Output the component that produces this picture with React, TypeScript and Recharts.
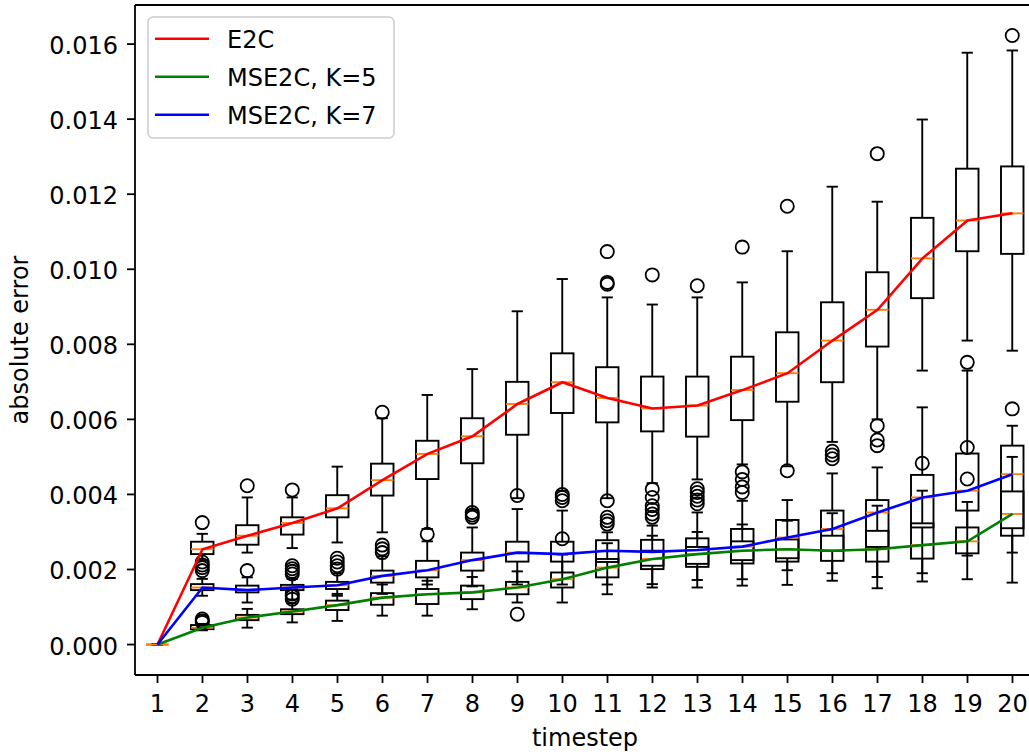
import React from 'react';
import { ComposedChart, Bar, Line, XAxis, YAxis, Legend, ReferenceLine } from 'recharts';

const FONT = '"DejaVu Sans", sans-serif';

const timesteps = ['1', '2', '3', '4', '5', '6', '7', '8', '9', '10', '11', '12', '13', '14', '15', '16', '17', '18', '19', '20'];
const yTicks = [0, 0.002, 0.004, 0.006, 0.008, 0.01, 0.012, 0.014, 0.016];

// E2C
const e2cLow = [0, 0.00225, 0.00245, 0.00257, 0.00272, 0.00299, 0.00308, 0.00358, 0.0039, 0.0041, 0.0039, 0.0043, 0.0044, 0.0048, 0.00475, 0.0054, 0.006, 0.0073, 0.0081, 0.00783];
const e2cQ1 = [0, 0.00241, 0.00266, 0.00293, 0.00339, 0.00397, 0.00441, 0.00483, 0.00559, 0.00617, 0.00592, 0.00568, 0.00554, 0.00598, 0.00647, 0.00699, 0.00794, 0.00923, 0.01048, 0.01041];
const e2cMed = [0, 0.00254, 0.0029, 0.00324, 0.00363, 0.00438, 0.00508, 0.00555, 0.00641, 0.00699, 0.00657, 0.00629, 0.00637, 0.00678, 0.00723, 0.0081, 0.00892, 0.01029, 0.0113, 0.01149];
const e2cQ3 = [0, 0.00274, 0.00318, 0.00339, 0.00398, 0.00482, 0.00543, 0.00603, 0.007, 0.00776, 0.00739, 0.00714, 0.00714, 0.00767, 0.00832, 0.00912, 0.00992, 0.01137, 0.01268, 0.01274];
const e2cHigh = [0, 0.00295, 0.00392, 0.00392, 0.00474, 0.00603, 0.00665, 0.00734, 0.00888, 0.00974, 0.00925, 0.00906, 0.00925, 0.00965, 0.01048, 0.0122, 0.0118, 0.01399, 0.01577, 0.01583];
const e2cOutliers = [[], [0.00325], [0.00423], [0.00412], [], [0.00619], [0.00294], [], [], [], [0.0096, 0.00965, 0.01047], [0.00985], [0.00956], [0.01059], [0.01168], [], [0.01308], [], [], [0.01623]];

// MSE2C, K=5
const k5Low = [0, 0.00038, 0.00045, 0.00059, 0.00063, 0.00077, 0.00077, 0.00094, 0.00112, 0.00112, 0.00134, 0.00152, 0.00152, 0.00157, 0.00159, 0.0017, 0.0015, 0.00168, 0.00174, 0.00165];
const k5Q1 = [0, 0.00041, 0.00065, 0.00081, 0.00092, 0.00106, 0.00108, 0.00121, 0.00134, 0.00152, 0.00179, 0.00201, 0.00207, 0.00216, 0.00221, 0.00223, 0.00221, 0.00229, 0.00243, 0.0029];
const k5Med = [0, 0.00045, 0.00072, 0.00088, 0.00105, 0.00125, 0.00134, 0.00139, 0.00152, 0.00174, 0.00205, 0.00228, 0.00241, 0.0025, 0.00254, 0.0025, 0.00254, 0.00265, 0.00275, 0.00348];
const k5Q3 = [0, 0.00052, 0.00079, 0.00094, 0.00117, 0.00137, 0.00148, 0.00157, 0.00167, 0.00192, 0.00228, 0.0025, 0.0026, 0.00275, 0.0028, 0.0029, 0.00303, 0.00323, 0.00312, 0.00408];
const k5High = [0, 0.00055, 0.00095, 0.0011, 0.00135, 0.0016, 0.0017, 0.0018, 0.00195, 0.0024, 0.0027, 0.0029, 0.003, 0.0032, 0.0033, 0.0035, 0.0037, 0.0041, 0.0038, 0.005];
const k5Outliers = [[], [0.00059, 0.00063, 0.00068], [], [0.00121, 0.00128, 0.00135], [], [], [], [], [0.00081], [0.00282], [], [], [], [], [], [], [], [0.00483], [0.00441, 0.00525], []];

// MSE2C, K=7
const k7Low = [0, 0.0013, 0.00112, 0.0012, 0.0013, 0.00135, 0.0016, 0.00155, 0.0016, 0.0016, 0.0016, 0.00161, 0.00172, 0.00174, 0.00198, 0.0019, 0.0018, 0.0019, 0.00237, 0.00245];
const k7Q1 = [0, 0.00145, 0.00139, 0.00145, 0.00148, 0.00165, 0.00179, 0.00197, 0.00221, 0.00221, 0.0022, 0.0021, 0.00215, 0.00225, 0.0023, 0.0025, 0.0026, 0.00312, 0.00357, 0.0031];
const k7Med = [0, 0.00152, 0.00145, 0.00152, 0.00158, 0.00183, 0.00198, 0.00225, 0.00245, 0.00241, 0.0025, 0.00247, 0.00252, 0.00261, 0.00285, 0.00308, 0.00352, 0.00392, 0.0041, 0.00454];
const k7Q3 = [0, 0.00161, 0.00157, 0.00159, 0.00167, 0.00197, 0.00223, 0.00245, 0.00274, 0.00274, 0.00278, 0.00279, 0.00283, 0.00308, 0.00332, 0.00357, 0.00385, 0.00452, 0.00509, 0.0053];
const k7High = [0, 0.00175, 0.00179, 0.00175, 0.0019, 0.00235, 0.00275, 0.00312, 0.00361, 0.00357, 0.00299, 0.00317, 0.00352, 0.00383, 0.00385, 0.00456, 0.00472, 0.00632, 0.0073, 0.00583];
const k7Outliers = [[], [0.00197, 0.00205, 0.00212, 0.0022], [0.00197], [0.00188, 0.00195, 0.00202, 0.0021], [0.00201, 0.0021, 0.0022, 0.0023], [0.00245, 0.00255, 0.00265], [], [0.00339, 0.00345, 0.00352], [0.00397], [0.00383, 0.00392, 0.004], [0.00321, 0.0033, 0.00339, 0.00383], [0.00339, 0.00348, 0.0036, 0.0037, 0.00392, 0.00414], [0.00375, 0.00385, 0.00395, 0.00405, 0.00415], [0.00405, 0.0042, 0.0044, 0.0046], [0.00463], [0.00495, 0.00505, 0.00515], [0.0053, 0.00545, 0.00583], [], [0.00752], [0.00628]];

const series = [
  { key: 'e2c', name: 'E2C', color: '#ff0000', low: e2cLow, q1: e2cQ1, med: e2cMed, q3: e2cQ3, high: e2cHigh, outliers: e2cOutliers },
  { key: 'k5', name: 'MSE2C, K=5', color: '#008000', low: k5Low, q1: k5Q1, med: k5Med, q3: k5Q3, high: k5High, outliers: k5Outliers },
  { key: 'k7', name: 'MSE2C, K=7', color: '#0000ff', low: k7Low, q1: k7Q1, med: k7Med, q3: k7Q3, high: k7High, outliers: k7Outliers },
];

// matplotlib-style autoscale: data range plus 5% on each side
const spanMin = 0;
const spanMax = Math.max(...series.flatMap((s) => [...s.high, ...s.outliers.flat()]));
const pad = (spanMax - spanMin) * 0.05;
const yDomain = [spanMin - pad, spanMax + pad];

const rows = timesteps.map((t, i) => {
  const row: any = {
    t,
    span: [spanMin, spanMax],
    boxes: series.map((s) => ({
      low: s.low[i],
      q1: s.q1[i],
      med: s.med[i],
      q3: s.q3[i],
      high: s.high[i],
      outliers: s.outliers[i],
    })),
  };
  series.forEach((s) => {
    row[s.key] = s.med[i];
  });
  return row;
});

// the invisible bar spans [spanMin, spanMax]; its pixel extent gives the y mapping for the boxes
function BoxShape(props: any) {
  const { x, y, width, height, payload } = props;
  if (payload == null || x == null || y == null) return null;
  const top = Math.min(y, y + height);
  const bottom = Math.max(y, y + height);
  const py = (v: number) => bottom - ((v - spanMin) / (spanMax - spanMin)) * (bottom - top);
  const cx = x + width / 2;
  const half = width / 2;
  const cap = width / 4;
  const sw = 1.9;
  return (
    <g>
      {payload.boxes.map((b: any, k: number) => (
        <g key={k}>
          <line x1={cx} x2={cx} y1={py(b.low)} y2={py(b.q1)} stroke="#000" strokeWidth={sw} />
          <line x1={cx} x2={cx} y1={py(b.q3)} y2={py(b.high)} stroke="#000" strokeWidth={sw} />
          <line x1={cx - cap} x2={cx + cap} y1={py(b.low)} y2={py(b.low)} stroke="#000" strokeWidth={sw} />
          <line x1={cx - cap} x2={cx + cap} y1={py(b.high)} y2={py(b.high)} stroke="#000" strokeWidth={sw} />
          <rect x={cx - half} y={py(b.q3)} width={width} height={py(b.q1) - py(b.q3)} fill="none" stroke="#000" strokeWidth={sw} />
          <line x1={cx - half} x2={cx + half} y1={py(b.med)} y2={py(b.med)} stroke="#ff7f0e" strokeWidth={sw} />
          {b.outliers.map((v: number, j: number) => (
            <circle key={j} cx={cx} cy={py(v)} r={6.6} fill="none" stroke="#000" strokeWidth={1.8} />
          ))}
        </g>
      ))}
    </g>
  );
}

const YTick = (props: any) => {
  const { x, y, payload } = props;
  return (
    <text x={x} y={y + 10} textAnchor="end" fontFamily={FONT} fontSize={24} fill="#000">
      {Number(payload.value).toFixed(3)}
    </text>
  );
};

const XTick = (props: any) => {
  const { x, y, payload } = props;
  return (
    <text x={x} y={y + 25} textAnchor="middle" fontFamily={FONT} fontSize={24} fill="#000">
      {payload.value}
    </text>
  );
};

const YLabel = (props: any) => {
  const vb = props.viewBox || { x: 0, y: 5, width: 135, height: 670 };
  const x = vb.x + 27.5;
  const y = vb.y + vb.height / 2;
  return (
    <text x={x} y={y} transform={`rotate(-90, ${x}, ${y})`} textAnchor="middle" fontFamily={FONT} fontSize={24} fill="#000">
      absolute error
    </text>
  );
};

const XLabel = (props: any) => {
  const vb = props.viewBox || { x: 135, y: 675, width: 900, height: 80 };
  return (
    <text x={vb.x + vb.width / 2} y={vb.y + 71} textAnchor="middle" fontFamily={FONT} fontSize={24} fill="#000">
      timestep
    </text>
  );
};

const renderLegend = (props: any) => {
  const items = (props.payload || []).filter((p: any) => p.type !== 'none');
  return (
    <svg width={248} height={123} style={{ display: 'block' }}>
      <rect x={1} y={1} width={246} height={121} rx={5} fill="#fff" fillOpacity={0.8} stroke="#cccccc" strokeWidth={1.5} />
      {items.map((it: any, i: number) => {
        const ly = 22.7 + 38 * i;
        return (
          <g key={it.value}>
            <line x1={8} x2={62} y1={ly} y2={ly} stroke={it.color} strokeWidth={2.6} />
            <text x={80} y={ly + 9.5} fontFamily={FONT} fontSize={24} fill="#000">
              {it.value}
            </text>
          </g>
        );
      })}
    </svg>
  );
};

export default function App() {
  return (
    <div style={{ width: 1029, height: 755, overflow: 'hidden', background: '#fff' }}>
      <style>{'body { margin: 0; background: #fff; }'}</style>
      <ComposedChart width={1036} height={755} data={rows} margin={{ top: 5, right: 1, bottom: 0, left: 0 }}>
        <XAxis
          dataKey="t"
          interval={0}
          height={80}
          tickSize={8}
          tickMargin={4}
          tick={<XTick />}
          axisLine={{ stroke: '#000', strokeWidth: 1.8 }}
          tickLine={{ stroke: '#000', strokeWidth: 1.8 }}
          label={{ content: XLabel }}
        />
        <YAxis
          type="number"
          domain={yDomain}
          allowDataOverflow
          ticks={yTicks}
          width={135}
          tickSize={8}
          tickMargin={9}
          tick={<YTick />}
          axisLine={{ stroke: '#000', strokeWidth: 1.8 }}
          tickLine={{ stroke: '#000', strokeWidth: 1.8 }}
          label={{ content: YLabel }}
        />
        {/* top spine */}
        <ReferenceLine y={yDomain[1]} stroke="#000" strokeWidth={1.8} />
        <Bar dataKey="span" barSize={22.5} shape={<BoxShape />} legendType="none" isAnimationActive={false} />
        {series.map((s) => (
          <Line
            key={s.key}
            type="linear"
            dataKey={s.key}
            name={s.name}
            stroke={s.color}
            strokeWidth={2.6}
            dot={false}
            activeDot={false}
            isAnimationActive={false}
          />
        ))}
        <Legend
          layout="vertical"
          align="center"
          verticalAlign="middle"
          wrapperStyle={{ left: 147, top: 16, width: 248, height: 123 }}
          content={renderLegend}
        />
      </ComposedChart>
    </div>
  );
}
